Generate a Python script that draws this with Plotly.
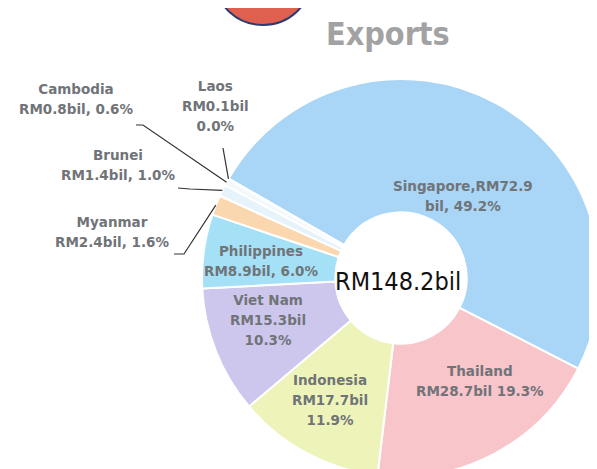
import math
import plotly.graph_objects as go

# ---------------- data ----------------
countries = ["Singapore", "Thailand", "Indonesia", "Viet Nam", "Philippines",
             "Myanmar", "Brunei", "Cambodia", "Laos"]
values_bil = [72.9, 28.7, 17.7, 15.3, 8.9, 2.4, 1.4, 0.8, 0.1]
label_texts = [
    "Singapore,RM72.9<br>bil, 49.2%",
    "Thailand<br>RM28.7bil 19.3%",
    "Indonesia<br>RM17.7bil<br>11.9%",
    "Viet Nam<br>RM15.3bil<br>10.3%",
    "Philippines<br>RM8.9bil, 6.0%",
    "Myanmar<br>RM2.4bil, 1.6%",
    "Brunei<br>RM1.4bil, 1.0%",
    "Cambodia<br>RM0.8bil, 0.6%",
    "Laos<br>RM0.1bil<br>0.0%",
]
total_text = "RM148.2bil"
title_text = "Exports"
note_text = "Note:"

# ---------------- styling / layout ----------------
W, H = 597, 469
colors = ["#a9d5f6", "#f8c5cb", "#eef4b9", "#cdc7ee", "#a5e1f6",
          "#fbd7af", "#e6f3fb", "#f3f8fc", "#ffffff"]
CX, CY, R = 393, 270, 199          # pie centre / radius in pixels
START_DEG = 150                    # math angle of the first slice edge
HOLE = 0.33
LBL_DY = -8                        # vertical correction for label boxes

# label centres in pixels
label_pos = {
    "Singapore": (455, 196), "Thailand": (472, 381), "Indonesia": (322, 400),
    "Viet Nam": (260, 320), "Philippines": (253, 261), "Myanmar": (104, 232),
    "Brunei": (110, 165), "Cambodia": (68, 99), "Laos": (207, 106),
}
# where the leader line leaves each outside label (pixels)
leader_start = {
    "Myanmar": [(166, 246), (176, 246)],
    "Brunei": [(170, 180), (182, 181)],
    "Cambodia": [(128, 117), (135, 117)],
    "Laos": [(215, 140)],
}


def px(x, y):
    return x / W, 1 - y / H


total = sum(values_bil)

fig = go.Figure(go.Pie(
    labels=countries, values=values_bil, sort=False, direction="clockwise",
    rotation=90 - START_DEG, hole=HOLE, textinfo="none", textposition="none",
    hoverinfo="label+value",
    marker=dict(colors=colors, line=dict(color="white", width=2)),
    domain=dict(x=[(CX - R) / W, (CX + R) / W], y=[1 - (CY + R) / H, 1 - (CY - R) / H]),
    showlegend=False,
))

span_open = '<span style="font-size:13.5px">'
annotations = []
for name, txt in zip(countries, label_texts):
    lx, ly = label_pos[name]
    x, y = px(lx, ly + LBL_DY)
    annotations.append(dict(x=x, y=y, xref="paper", yref="paper",
                            xanchor="center", yanchor="middle",
                            text=span_open + txt.replace("<br>", "</span><br>" + span_open) + "</span>",
                            showarrow=False, align="center",
                            font=dict(family="DejaVu Sans, Liberation Sans", size=15.5,
                                      color="#707478", weight="bold")))

# leader lines to the small slices, end points from the slice angles
shapes = []
cum = 0.0
for name, v in zip(countries, values_bil):
    mid = cum + v / 2
    cum += v
    if name not in leader_start:
        continue
    ang = math.radians(START_DEG - 360 * mid / total)
    ex = CX + R * 1.0 * math.cos(ang)
    ey = CY - R * 1.0 * math.sin(ang)
    pts = leader_start[name] + [(ex, ey)]
    path = "M " + " L ".join(f"{px(a, b)[0]:.4f},{px(a, b)[1]:.4f}" for a, b in pts)
    shapes.append(dict(type="path", xref="paper", yref="paper", path=path,
                       line=dict(color="#333333", width=1.2)))

# partial logo at top
shapes.append(dict(type="circle", xref="paper", yref="paper",
                   x0=208 / W, x1=302 / W, y0=1 - 17 / H, y1=1 + 70 / H,
                   fillcolor="#e0604f", line=dict(color="#2c3c70", width=2)))

cx, cy = px(CX - 3, CY + 3)
annotations.append(dict(x=cx, y=cy, xref="paper", yref="paper", text=total_text,
                        xanchor="center", yanchor="middle", showarrow=False,
                        font=dict(family="DejaVu Sans Condensed, Liberation Sans Narrow",
                                  size=25, color="#111111")))
tx, ty = px(380, 26)
annotations.append(dict(x=tx, y=ty, xref="paper", yref="paper", text=title_text,
                        xanchor="center", yanchor="middle", showarrow=False,
                        font=dict(family="DejaVu Sans Condensed, Liberation Sans Narrow",
                                  size=32, color="#a2a2a2", weight="bold")))
nx, ny = px(90, 472)
annotations.append(dict(x=nx, y=ny, xref="paper", yref="paper", text=note_text,
                        xanchor="center", yanchor="middle", showarrow=False,
                        font=dict(family="DejaVu Sans, Liberation Sans", size=13,
                                  color="#333333")))

fig.update_layout(width=W, height=H, margin=dict(l=0, r=0, t=0, b=0),
                  paper_bgcolor="white", plot_bgcolor="white",
                  annotations=annotations, shapes=shapes)

fig.write_html("out.html")
